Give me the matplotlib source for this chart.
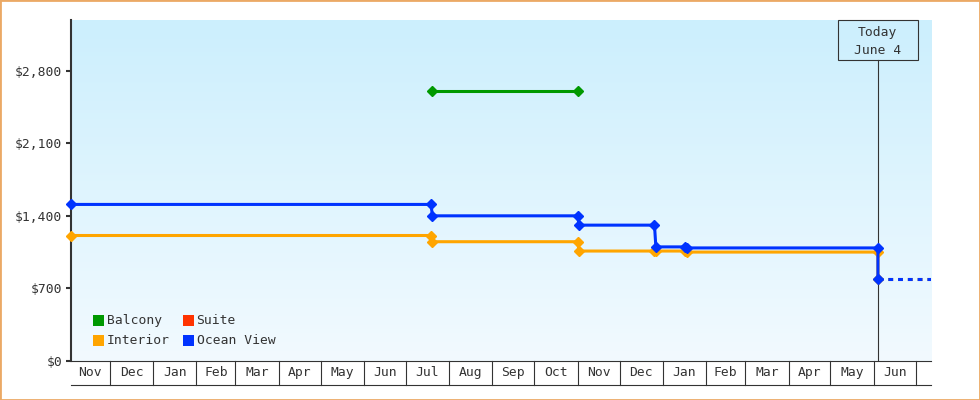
import datetime as dt
import pandas as pd
import numpy as np
import matplotlib
matplotlib.use("Agg")
import matplotlib.pyplot as plt
import matplotlib.dates as mdates
import matplotlib.transforms as mtrans
from matplotlib.patches import Rectangle
from matplotlib.ticker import FuncFormatter

D = dt.date

# legend entries (row-major, 2 columns)
series_names = ["Balcony", "Suite", "Interior", "Ocean View"]
series_colors = ["#009900", "#ff3300", "#ffa500", "#0033ff"]

balcony_dates = [D(2022, 7, 20), D(2022, 11, 1)]
balcony_prices = [2609, 2609]

step_dates = [D(2021, 11, 3), D(2022, 7, 19), D(2022, 7, 20), D(2022, 11, 1),
              D(2022, 11, 2), D(2022, 12, 26), D(2022, 12, 27), D(2023, 1, 17),
              D(2023, 1, 18), D(2023, 6, 4), D(2023, 6, 4)]
interior_prices = [1209, 1209, 1149, 1149, 1059, 1059, 1059, 1059, 1049, 1049, 786]
ocean_prices = [1509, 1509, 1399, 1399, 1309, 1309, 1099, 1099, 1089, 1089, 791]

forecast_dates = [D(2023, 6, 4), D(2023, 7, 12)]
interior_forecast = [786, 786]
ocean_forecast = [791, 791]

today = D(2023, 6, 4)
today_label = "Today\nJune 4"
x_start, x_end = D(2021, 11, 3), D(2023, 7, 12)
y_max = 3290
y_ticks = [0, 700, 1400, 2100, 2800]
month_labels = ["Nov", "Dec", "Jan", "Feb", "Mar", "Apr", "May", "Jun", "Jul",
                "Aug", "Sep", "Oct", "Nov", "Dec", "Jan", "Feb", "Mar", "Apr",
                "May", "Jun", "Jul"]

ink = "#333333"
font = dict(family="DejaVu Sans Mono", size=9.4, color=ink)

fig = plt.figure(figsize=(9.8, 4), dpi=100)
ax = fig.add_axes([70.7 / 980, 1 - 360.7 / 400, (931 - 70.7) / 980, (360.7 - 20) / 400])
ax.set_xlim(x_start, x_end)
ax.set_ylim(0, y_max)

# gradient background
grad = np.linspace(0, 1, 256)[:, None]
top = np.array([204, 239, 253]) / 255
bot = np.array([242, 250, 255]) / 255
img = top[None, None, :] * (1 - grad[..., None]) + bot[None, None, :] * grad[..., None]
ax.imshow(img, extent=[0, 1, 0, 1], transform=ax.transAxes, aspect="auto", zorder=0)

# series
lw = 2.2
ms = 5.2
ax.plot(balcony_dates, balcony_prices, color=series_colors[0], lw=lw,
        marker="D", ms=ms, zorder=4, clip_on=False)
ax.plot(forecast_dates, interior_forecast, color=series_colors[2], lw=lw,
        linestyle=(0, (1.6, 1.6)), zorder=3)
ax.plot(step_dates, interior_prices, color=series_colors[2], lw=lw,
        marker="D", ms=ms, zorder=4, clip_on=False)
ax.plot(forecast_dates, ocean_forecast, color=series_colors[3], lw=lw,
        linestyle=(0, (1.6, 1.6)), zorder=5)
ax.plot(step_dates, ocean_prices, color=series_colors[3], lw=lw,
        marker="D", ms=ms, zorder=6, clip_on=False)

# axes styling
for s in ["top", "right"]:
    ax.spines[s].set_visible(False)
ax.spines["left"].set_linewidth(1.5)
ax.spines["left"].set_color(ink)
ax.spines["left"].set_zorder(3)
ax.spines["bottom"].set_linewidth(0.8)
ax.spines["bottom"].set_color(ink)
ax.set_yticks(y_ticks)
ax.yaxis.set_major_formatter(FuncFormatter(lambda v, p: f"${v:,.0f}"))
ax.tick_params(axis="y", length=3.6, width=1.5, color=ink, pad=2.5)
for t in ax.get_yticklabels():
    t.set_fontfamily(font["family"])
    t.set_fontsize(font["size"])
    t.set_color(ink)
ax.set_xticks([])

# month boxes below the axis
bt = mtrans.blended_transform_factory(ax.transData, ax.transAxes)
box_h = (385 - 360.7) / 340.7
starts = pd.date_range("2021-11-01", periods=len(month_labels) + 1, freq="MS")
x0n, x1n = mdates.date2num(x_start), mdates.date2num(x_end)
for i, lab in enumerate(month_labels):
    a = max(mdates.date2num(starts[i]), x0n)
    b = min(mdates.date2num(starts[i + 1]), x1n)
    if mdates.date2num(starts[i]) > x0n:
        ax.plot([a, a], [0, -box_h], color=ink, lw=0.8, transform=bt, clip_on=False)
    if b - a >= 20:
        ax.text((a + b) / 2, -box_h / 2, lab, transform=bt, ha="center",
                va="center", **font)
ax.plot([0, 1], [-box_h, -box_h], color=ink, lw=0.8, transform=ax.transAxes,
        clip_on=False)

# today marker
tx = (mdates.date2num(today) - x0n) / (x1n - x0n)
bw, bh = 80 / 860.3, 40 / 340.7
ax.plot([tx, tx], [0, 1 - bh], color=ink, lw=0.8, transform=ax.transAxes, zorder=2)
ax.add_patch(Rectangle((tx - bw / 2, 1 - bh), bw, bh, transform=ax.transAxes,
                       facecolor="none", edgecolor=ink, lw=0.8, zorder=2,
                       clip_on=False))
l1, l2 = today_label.split("\n")
ax.text(tx, (360.7 - 32.3) / 340.7, l1, transform=ax.transAxes, ha="center",
        va="center", **font)
ax.text(tx, (360.7 - 50.7) / 340.7, l2, transform=ax.transAxes, ha="center",
        va="center", **font)

# legend
sq_w, sq_h = 11 / 860.3, 11 / 340.7
col_x = [(93 - 70.7) / 860.3, (183 - 70.7) / 860.3]
row_y = [(360.7 - 326) / 340.7, (360.7 - 346) / 340.7]
for i, (name, col) in enumerate(zip(series_names, series_colors)):
    cx, ry = col_x[i % 2], row_y[i // 2]
    ax.add_patch(Rectangle((cx, ry), sq_w, sq_h, transform=ax.transAxes,
                           facecolor=col, edgecolor="none", zorder=7))
    ax.text(cx + sq_w + 2.5 / 860.3, ry + sq_h / 2, name, transform=ax.transAxes,
            ha="left", va="center", zorder=7, **font)

# outer border
fig.patches.append(Rectangle((0, 0), 1, 1, transform=fig.transFigure, fill=False,
                             edgecolor="#eba965", lw=2))

fig.savefig("out.png", dpi=100)
